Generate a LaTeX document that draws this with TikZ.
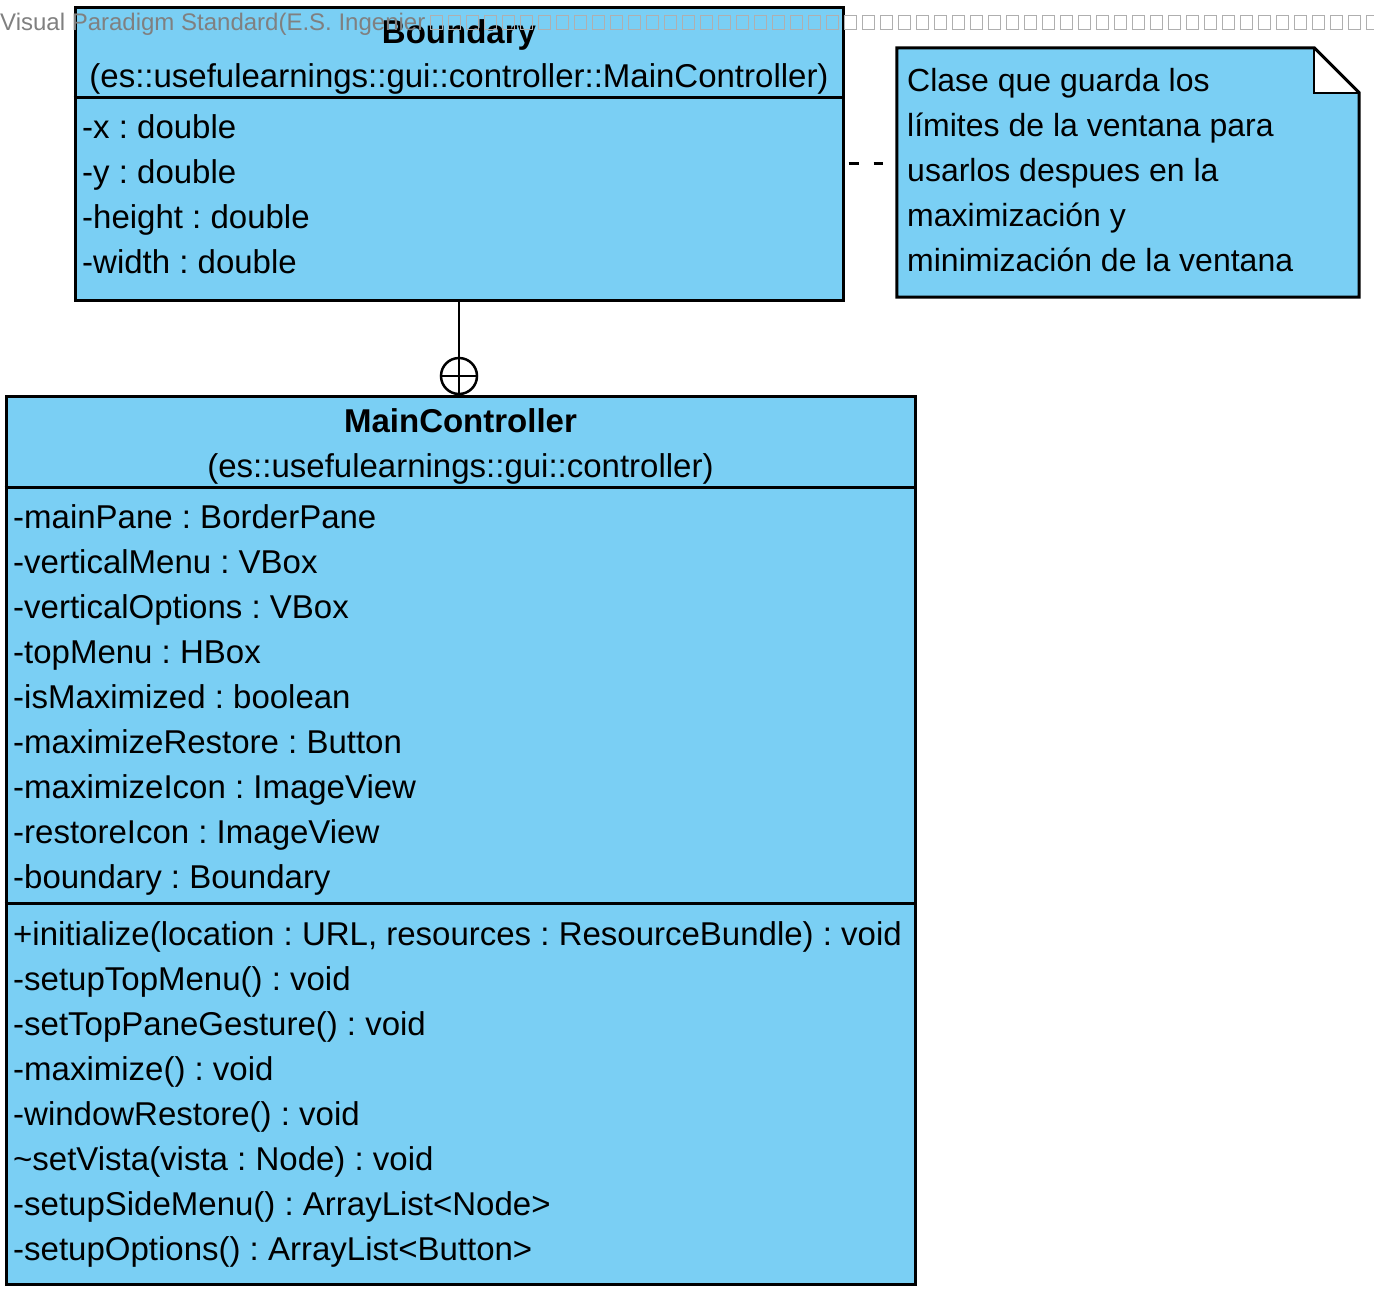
\documentclass[tikz,border=0pt]{standalone}
\usepackage{fontspec}
\setmainfont{Liberation Sans}
\frenchspacing
\definecolor{classblue}{RGB}{122,207,244}
\definecolor{markgray}{RGB}{128,128,128}
\definecolor{boxgray}{RGB}{175,175,175}
\newcommand\umlfont{\fontsize{33}{45}\selectfont}
\newcommand\notefont{\fontsize{32}{45}\selectfont}
\tikzset{
  classbox/.style={draw=black, line width=3pt, fill=classblue, inner sep=0pt},
  member/.style={anchor=base west, inner sep=0pt, font=\umlfont},
  classtitle/.style={anchor=base, inner sep=0pt, font=\umlfont},
}
\begin{document}
\begin{tikzpicture}[x=1pt,y=-1pt]
    \useasboundingbox (0,0) rectangle (1374,1296);
    % class Boundary
    \node[classbox, minimum width=768pt, minimum height=293pt] (boundary) at (459,153.5) {};
    \draw[line width=3pt] (boundary.west |- 0,97) -- (boundary.east |- 0,97);
    \node[classtitle, font=\umlfont\bfseries] (bname) at (459,43) {Boundary};
    \node[classtitle] (bpath) at (459,87) {(es::usefulearnings::gui::controller::MainController)};
    \foreach \txt [count=\i from 0] in {-x : double, -y : double, -height : double, -width : double}
      \node[member] (battr\i) at (82,138+45*\i) {\txt};

    % class MainController
    \node[classbox, minimum width=909pt, minimum height=888pt] (mainctl) at (460.5,840) {};
    \draw[line width=3pt] (mainctl.west |- 0,487) -- (mainctl.east |- 0,487);
    \draw[line width=3pt] (mainctl.west |- 0,903) -- (mainctl.east |- 0,903);
    \node[classtitle, font=\umlfont\bfseries] (mname) at (460.5,432) {MainController};
    \node[classtitle] (mpath) at (460.5,477) {(es::usefulearnings::gui::controller)};
    \foreach \txt [count=\i from 0] in {-mainPane : BorderPane, -verticalMenu : VBox,
        -verticalOptions : VBox, -topMenu : HBox, -isMaximized : boolean,
        -maximizeRestore : Button, -maximizeIcon : ImageView,
        -restoreIcon : ImageView, -boundary : Boundary}
      \node[member] (mattr\i) at (13,528+45*\i) {\txt};
    \foreach \txt [count=\i from 0] in {{+initialize(location : URL, resources : ResourceBundle) : void},
        -setupTopMenu() : void, -setTopPaneGesture() : void, -maximize() : void,
        -windowRestore() : void, \textasciitilde setVista(vista : Node) : void,
        -setupSideMenu() : ArrayList<Node>, -setupOptions() : ArrayList<Button>}
      \node[member] (mop\i) at (13,945+45*\i) {\txt};

    % nesting
    \node[circle, draw, line width=2.5pt, minimum size=36pt, inner sep=0pt] (nest) at (459,376) {};
    \draw[line width=2.5pt] (boundary.south) -- (nest.north);
    \draw[line width=2.5pt] (nest.north) -- (nest.south) (nest.west) -- (nest.east);

    % note
    \node[inner sep=0pt, minimum width=462pt, minimum height=249pt] (note) at (1128,172.5) {};
    \fill[classblue] (note.north west) -- ([xshift=-45pt]note.north east) -- ([xshift=-45pt,yshift=-45pt]note.north east)
      -- ([yshift=-45pt]note.north east) -- (note.south east) -- (note.south west) -- cycle;
    \draw[line width=3pt, line join=miter] (note.north west) -- ([xshift=-45pt]note.north east) -- ([yshift=-45pt]note.north east)
      -- (note.south east) -- (note.south west) -- cycle;
    \draw[line width=2pt] ([xshift=-45pt]note.north east) -- ([xshift=-45pt,yshift=-45pt]note.north east) -- ([yshift=-45pt]note.north east);
    \foreach \txt [count=\i from 0] in {Clase que guarda los, límites de la ventana para,
        usarlos despues en la, maximización y, minimización de la ventana}
      \node[member, font=\notefont] (nline\i) at (907,91+45*\i) {\txt};
    \coordinate (linky) at (0,163);
    \draw[line width=3pt, dash pattern=on 10pt off 15pt, shorten <=4pt, shorten >=14pt]
      (boundary.east |- linky) -- (note.west |- linky);

    % watermark
    \node[anchor=base west, inner sep=0pt, text=markgray, font=\fontsize{24}{24}\selectfont] (mark) at (0,30)
      {Visual Paradigm Standard(E.S. Ingenier};
    \foreach \k in {0,...,52}
      \draw[draw=boxgray, line width=1pt] (430+18*\k,15) rectangle ++(12,14);
  \end{tikzpicture}
\end{document}
